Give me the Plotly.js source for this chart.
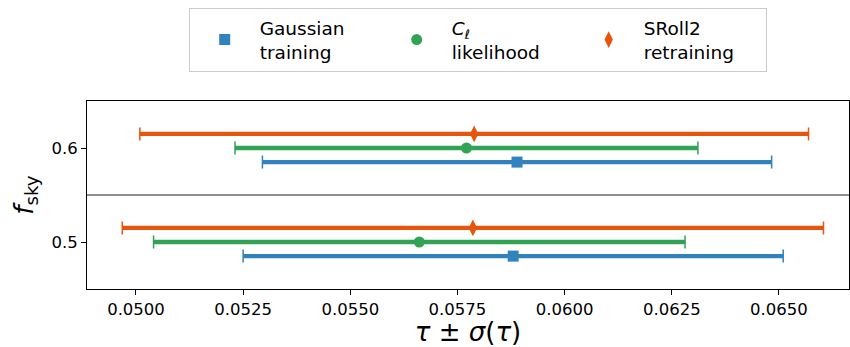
<!DOCTYPE html>
<html>
<head>
<meta charset="utf-8">
<script src="https://cdn.plot.ly/plotly-3.0.1.min.js"></script>
<style>html,body{margin:0;padding:0;background:#fff}#chart{width:850px;height:347px}</style>
</head>
<body>
<div id="chart"></div>
<script>
// Data
const fsky = [0.5, 0.6];
const seriesNames = ["Gaussian<br>training", "<i>C</i><sub><i>ℓ</i></sub><br>likelihood", "SRoll2<br>retraining"];
const gaussianTau = [0.05880, 0.05889];
const gaussianSigma = [0.00630, 0.00594];
const clTau = [0.05661, 0.05771];
const clSigma = [0.00620, 0.00540];
const srollTau = [0.05786, 0.05789];
const srollSigma = [0.00818, 0.00780];
const xTickVals = [0.05, 0.0525, 0.055, 0.0575, 0.06, 0.0625, 0.065];
const yTickVals = [0.5, 0.6];
const yTickText = ["0.5", "0.6"];
const separator = 0.55;

// styling
const colors = ["#3182bd", "#31a354", "#e6550d"];
const symbols = ["square", "circle", "diamond-tall"];
const markerSizes = [11, 11, 12];
const yOffsets = [-0.015, 0, 0.015];
const taus = [gaussianTau, clTau, srollTau];
const sigmas = [gaussianSigma, clSigma, srollSigma];

const traces = [];
for (let i = 0; i < 3; i++) {
  const y = fsky.map(v => v + yOffsets[i]);
  // thick bar without caps
  traces.push({
    type: "scatter", mode: "markers", x: taus[i], y: y,
    marker: {opacity: 0, size: 1, color: colors[i]},
    error_x: {type: "data", array: sigmas[i], visible: true, color: colors[i], thickness: 4.3, width: 0},
    showlegend: false, hoverinfo: "skip"
  });
  // thin caps
  traces.push({
    type: "scatter", mode: "markers", x: taus[i], y: y,
    marker: {opacity: 0, size: 1, color: colors[i]},
    error_x: {type: "data", array: sigmas[i], visible: true, color: colors[i], thickness: 1.5, width: 6.5},
    showlegend: false, hoverinfo: "skip"
  });
}
for (let i = 0; i < 3; i++) {
  const y = fsky.map(v => v + yOffsets[i]);
  traces.push({
    type: "scatter", mode: "markers", x: taus[i], y: y, name: seriesNames[i],
    marker: {symbol: symbols[i], size: markerSizes[i], color: colors[i], line: {width: 0}}
  });
}

const font = "DejaVu Sans, sans-serif";
const layout = {
  width: 850, height: 347,
  margin: {l: 87, r: 1, t: 101, b: 58},
  paper_bgcolor: "#fff", plot_bgcolor: "#fff",
  font: {family: font, color: "#000", size: 16.5},
  showlegend: true,
  legend: {
    orientation: "h", xref: "container", yref: "container",
    x: 0.562, xanchor: "center", y: 0.977, yanchor: "top",
    bordercolor: "#cccccc", borderwidth: 1, bgcolor: "#fff",
    font: {family: font, size: 18.5, color: "#000"},
    itemwidth: 60, entrywidth: 117, entrywidthmode: "pixels",
    traceorder: "normal"
  },
  xaxis: {
    range: [0.048857, 0.066635], tickvals: xTickVals, tickformat: ".4f",
    showgrid: false, zeroline: false, showline: true, linecolor: "#000", linewidth: 1, mirror: true,
    ticks: "outside", ticklen: 5, tickwidth: 1, tickcolor: "#000",
    title: {text: "<i>τ</i> ± <i>σ</i>(<i>τ</i>)", font: {family: font, size: 26}, standoff: 5}
  },
  yaxis: {
    range: [0.45, 0.65], tickvals: yTickVals, ticktext: yTickText,
    showgrid: false, zeroline: false, showline: true, linecolor: "#000", linewidth: 1, mirror: true,
    ticks: "outside", ticklen: 5, tickwidth: 1, tickcolor: "#000",
    title: {text: "<i>f</i><sub>sky</sub>", font: {family: font, size: 26}, standoff: 10}
  },
  shapes: [{
    type: "line", xref: "paper", x0: 0, x1: 1, yref: "y", y0: separator, y1: separator,
    line: {color: "#222", width: 1.2}
  }]
};

Plotly.newPlot("chart", traces, layout, {staticPlot: true});
</script>
</body>
</html>
